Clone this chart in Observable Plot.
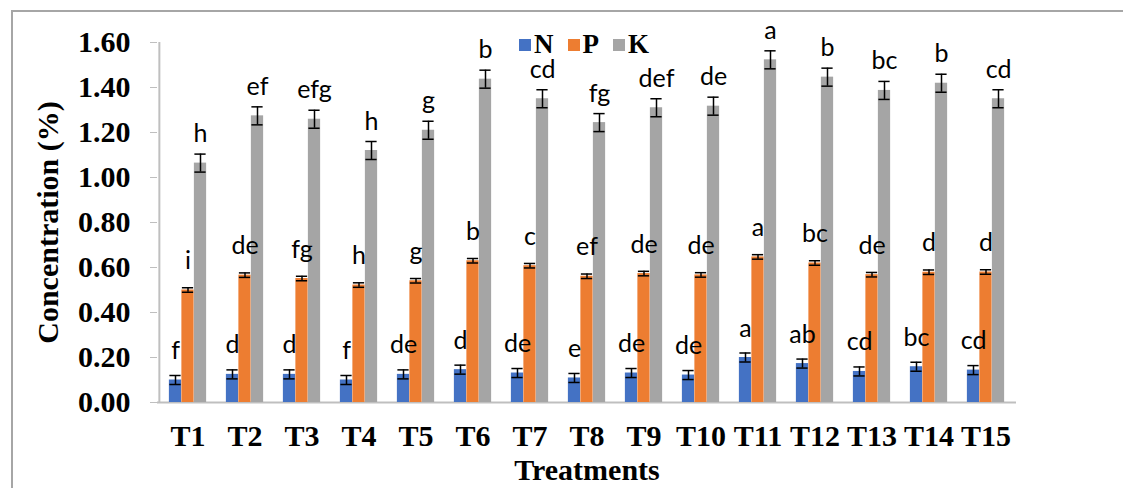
<!DOCTYPE html>
<html>
<head>
<meta charset="utf-8">
<script src="https://cdn.jsdelivr.net/npm/d3@7"></script>
<script src="https://cdn.jsdelivr.net/npm/@observablehq/plot@0.6"></script>
<style>
  html, body { margin: 0; padding: 0; background: #fff; }
  #wrap { position: relative; width: 1123px; height: 488px; overflow: hidden; background: #fff; }
  #frame { position: absolute; left: 11px; top: 10px; width: 1200px; height: 600px;
           border-left: 2px solid #a6a6a6; border-top: 2px solid #a6a6a6; box-sizing: border-box; }
  #chart { position: absolute; left: 0; top: 0; }
  #legend { position: absolute; left: 519px; top: 29px; display: flex; align-items: center;
            font-family: "Liberation Serif", "Times New Roman", serif; font-weight: bold; font-size: 27px; color: #000; }
  #legend .item { display: flex; align-items: center; margin-right: 14px; }
  #legend .sw { width: 12px; height: 12px; margin-right: 3px; }
</style>
</head>
<body>
<div id="wrap">
  <div id="frame"></div>
  <div id="chart"></div>
  <div id="legend"></div>
</div>
<script>
const treatments = ["T1","T2","T3","T4","T5","T6","T7","T8","T9","T10","T11","T12","T13","T14","T15"];
const nutrients = ["N","P","K"];
const colors = ["#4472C4","#ED7D31","#A5A5A5"];

const nValues = [0.100,0.125,0.125,0.100,0.125,0.146,0.131,0.109,0.131,0.122,0.200,0.173,0.138,0.159,0.144];
const pValues = [0.500,0.566,0.551,0.522,0.541,0.630,0.608,0.561,0.573,0.567,0.647,0.620,0.568,0.579,0.580];
const kValues = [1.064,1.274,1.259,1.120,1.210,1.437,1.350,1.244,1.310,1.317,1.523,1.446,1.387,1.419,1.350];

const nErrors = [0.02,0.02,0.02,0.02,0.02,0.02,0.02,0.02,0.02,0.02,0.02,0.02,0.02,0.02,0.02];
const pErrors = [0.01,0.01,0.01,0.01,0.01,0.01,0.01,0.01,0.01,0.01,0.01,0.01,0.01,0.01,0.01];
const kErrors = [0.04,0.04,0.04,0.04,0.04,0.04,0.04,0.04,0.04,0.04,0.04,0.04,0.04,0.04,0.04];

const nLetters = ["f","d","d","f","de","d","de","e","de","de","a","ab","cd","bc","cd"];
const pLetters = ["i","de","fg","h","g","b","c","ef","de","de","a","bc","de","d","d"];
const kLetters = ["h","ef","efg","h","g","b","cd","fg","def","de","a","b","bc","b","cd"];

const yTicks = [0,0.2,0.4,0.6,0.8,1.0,1.2,1.4,1.6];

const series = [
  {name: "N", values: nValues, errors: nErrors, letters: nLetters},
  {name: "P", values: pValues, errors: pErrors, letters: pLetters},
  {name: "K", values: kValues, errors: kErrors, letters: kLetters}
];

const W = 1123, H = 488;
const mL = 157, mR = 107, mT = 42, mB = 86;
const bw = (W - mL - mR) / treatments.length;
const barW = 12.5;
const center = bw / 2;

const serif = "'Liberation Serif', 'Times New Roman', serif";
const sans = "Lato, 'Open Sans', sans-serif";

const barMarks = [];
const labelMarks = [];
series.forEach((s, si) => {
  const rows = treatments.map((t, i) => ({t, v: s.values[i], e: s.errors[i], lab: s.letters[i]}));
  const left = center - 1.5 * barW + si * barW;
  const insetLeft = left;
  const insetRight = bw - left - barW;
  const off = (si - 1) * barW;
  barMarks.push(Plot.barY(rows, {x: "t", y: "v", fill: colors[si], insetLeft, insetRight}));
  barMarks.push(Plot.ruleX(rows, {x: "t", y1: d => d.v - d.e, y2: d => d.v + d.e, dx: off, stroke: "#000", strokeWidth: 1.5}));
  barMarks.push(Plot.tickY(rows, {x: "t", y: d => d.v + d.e, insetLeft: insetLeft + 0.5, insetRight: insetRight + 0.5, stroke: "#000", strokeWidth: 1.5}));
  barMarks.push(Plot.tickY(rows, {x: "t", y: d => d.v - d.e, insetLeft: insetLeft + 0.5, insetRight: insetRight + 0.5, stroke: "#000", strokeWidth: 1.5}));
  labelMarks.push(Plot.text(rows, {x: "t", y: "v", text: "lab", dx: off, dy: -21, lineAnchor: "bottom",
    fontFamily: sans, fontSize: 25, fill: "#000"}));
});

const chart = Plot.plot({
  width: W, height: H,
  marginLeft: mL, marginRight: mR, marginTop: mT, marginBottom: mB,
  style: {background: "transparent", overflow: "visible"},
  x: {domain: treatments, padding: 0, axis: null},
  y: {domain: [0, 1.6], axis: null},
  marks: [
    Plot.ruleY([0], {stroke: "#bfbfbf", strokeWidth: 2}),
    Plot.ruleX([treatments[0]], {dx: -bw / 2, stroke: "#bfbfbf", strokeWidth: 2}),
    Plot.axisY({ticks: yTicks, tickFormat: d3.format(".2f"), tickSize: 7, tickPadding: 20,
      stroke: "#bfbfbf", fontFamily: serif, fontWeight: "bold", fontSize: 30, fill: "#000", label: null}),
    Plot.axisX({tickSize: 0, tickPadding: 22, fontFamily: serif, fontWeight: "bold", fontSize: 30, fill: "#000", label: null}),
    ...barMarks,
    ...labelMarks,
    Plot.text(["Treatments"], {frameAnchor: "bottom", dy: 77, lineAnchor: "bottom", text: d => d,
      fontFamily: serif, fontWeight: "bold", fontSize: 30, fill: "#000"}),
    Plot.text(["Concentration (%)"], {frameAnchor: "left", textAnchor: "middle", dx: -109, rotate: -90, text: d => d,
      fontFamily: serif, fontWeight: "bold", fontSize: 30, fill: "#000"})
  ]
});
document.getElementById("chart").appendChild(chart);

const legend = document.getElementById("legend");
nutrients.forEach((n, i) => {
  const item = document.createElement("div");
  item.className = "item";
  const sw = document.createElement("div");
  sw.className = "sw";
  sw.style.background = colors[i];
  const lab = document.createElement("span");
  lab.textContent = n;
  item.appendChild(sw);
  item.appendChild(lab);
  legend.appendChild(item);
});
</script>
</body>
</html>
